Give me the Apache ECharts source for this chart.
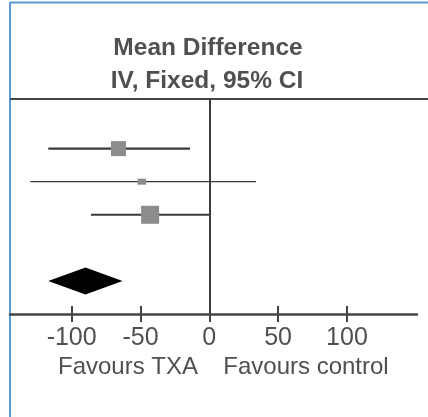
<!DOCTYPE html>
<html>
<head>
<meta charset="utf-8">
<script src="https://cdn.jsdelivr.net/npm/echarts@6/dist/echarts.min.js"></script>
<style>
  html, body { margin: 0; padding: 0; background: #fff; }
  #chart { width: 428px; height: 417px; }
</style>
</head>
<body>
<div id="chart"></div>
<script>
// Forest plot: mean difference, IV fixed effect, 95% CI
const studyRows = [1, 2, 3];
const studyMeans = [-66, -49, -43];
const studyLower = [-117, -130, -86];
const studyUpper = [-14, 34, 0];
const studyWeights = [38.4, 6.2, 55.4];

const pooledRow = 5;
const pooledMean = -90;
const pooledLower = -117;
const pooledUpper = -63;

const tickValues = [-100, -50, 0, 50, 100];
const favourLeft = 'Favours TXA';
const favourRight = 'Favours control';
const headerLines = ['Mean Difference', 'IV, Fixed, 95% CI'];

const FONT = 'Liberation Sans, Arial, sans-serif';
const TEXT = '#505050';
const X_MIN = -144.8, X_MAX = 150.9;

const studyData = studyRows.map((r, i) => [studyMeans[i], r, studyLower[i], studyUpper[i], studyWeights[i]]);
const pooledData = [[pooledMean, pooledRow, pooledLower, pooledUpper]];

const plotRect = { left: 10, right: 11, top: 99, bottom: 103, containLabel: false };
const tickStyle = { color: '#444', width: 2 };

const chart = echarts.init(document.getElementById('chart'), null, { renderer: 'canvas' });

chart.setOption({
  animation: false,
  backgroundColor: '#fff',
  // two overlapping grids: the second only carries the upward half of each tick
  grid: [Object.assign({}, plotRect), Object.assign({}, plotRect)],
  xAxis: [{
    gridIndex: 0, type: 'value', min: X_MIN, max: X_MAX, position: 'bottom',
    splitLine: { show: false },
    axisLine: { show: true, onZero: false, lineStyle: { color: '#444', width: 2.5 } },
    axisTick: { show: true, customValues: tickValues, length: 8, lineStyle: tickStyle },
    axisLabel: {
      customValues: tickValues, margin: 12, fontSize: 25, color: TEXT, fontFamily: FONT
    }
  }, {
    gridIndex: 1, type: 'value', min: X_MIN, max: X_MAX, position: 'bottom',
    splitLine: { show: false },
    axisLine: { show: false, onZero: false },
    axisTick: { show: true, inside: true, customValues: tickValues, length: 8, lineStyle: tickStyle },
    axisLabel: { show: false }
  }],
  yAxis: [
    { gridIndex: 0, type: 'value', inverse: true, min: -0.5, max: 6, show: false },
    { gridIndex: 1, type: 'value', inverse: true, min: -0.5, max: 6, show: false }
  ],
  series: [{
    type: 'custom',
    name: 'studies',
    xAxisIndex: 0, yAxisIndex: 0,
    data: studyData,
    encode: { x: [0, 2, 3], y: 1 },
    renderItem: function (params, api) {
      const c = api.coord([api.value(0), api.value(1)]);
      const lo = api.coord([api.value(2), api.value(1)]);
      const hi = api.coord([api.value(3), api.value(1)]);
      const w = api.value(4);
      const s = Math.sqrt(w) * 2.42;
      const thin = w < 10;
      const sw = thin ? Math.max(s * 1.4, 8) : s;
      const sh = thin ? 6 : s;
      return {
        type: 'group',
        children: [{
          type: 'line',
          shape: { x1: lo[0], y1: lo[1], x2: hi[0], y2: hi[1] },
          style: { stroke: '#3a3a3a', lineWidth: thin ? 1.3 : 2.2 }
        }, {
          type: 'rect',
          shape: { x: c[0] - sw / 2, y: c[1] - sh / 2, width: sw, height: sh },
          style: { fill: '#8c8c8c' }
        }]
      };
    },
    markLine: {
      silent: true, symbol: 'none', label: { show: false },
      lineStyle: { color: '#3c3c3c', width: 2, type: 'solid' },
      data: [{ xAxis: 0 }]
    },
    z: 3
  }, {
    type: 'custom',
    name: 'pooled',
    xAxisIndex: 0, yAxisIndex: 0,
    data: pooledData,
    encode: { x: [0, 2, 3], y: 1 },
    renderItem: function (params, api) {
      const c = api.coord([api.value(0), api.value(1)]);
      const lo = api.coord([api.value(2), api.value(1)]);
      const hi = api.coord([api.value(3), api.value(1)]);
      const h = 13.5;
      return {
        type: 'polygon',
        shape: { points: [[lo[0], c[1]], [c[0], c[1] - h], [hi[0], c[1]], [c[0], c[1] + h]] },
        style: { fill: '#000' }
      };
    },
    z: 4
  }],
  graphic: [
    // frame
    { type: 'line', shape: { x1: 10, y1: 2.5, x2: 428, y2: 2.5 }, style: { stroke: '#5b9bd5', lineWidth: 2 } },
    { type: 'line', shape: { x1: 10, y1: 2, x2: 10, y2: 417 }, style: { stroke: '#5b9bd5', lineWidth: 2 } },
    // header rule
    { type: 'line', shape: { x1: 10, y1: 99, x2: 428, y2: 99 }, style: { stroke: '#444', lineWidth: 2.2 } },
    {
      type: 'text', x: 208, y: 48,
      style: { text: headerLines[0], fill: TEXT, font: 'bold 24.5px ' + FONT, textAlign: 'center', textVerticalAlign: 'middle' }
    },
    {
      type: 'text', x: 207, y: 81,
      style: { text: headerLines[1], fill: TEXT, font: 'bold 24.5px ' + FONT, textAlign: 'center', textVerticalAlign: 'middle' }
    },
    {
      type: 'text', x: 128, y: 367,
      style: { text: favourLeft, fill: TEXT, font: '24px ' + FONT, textAlign: 'center', textVerticalAlign: 'middle' }
    },
    {
      type: 'text', x: 306, y: 367,
      style: { text: favourRight, fill: TEXT, font: '24px ' + FONT, textAlign: 'center', textVerticalAlign: 'middle' }
    }
  ]
});
</script>
</body>
</html>
